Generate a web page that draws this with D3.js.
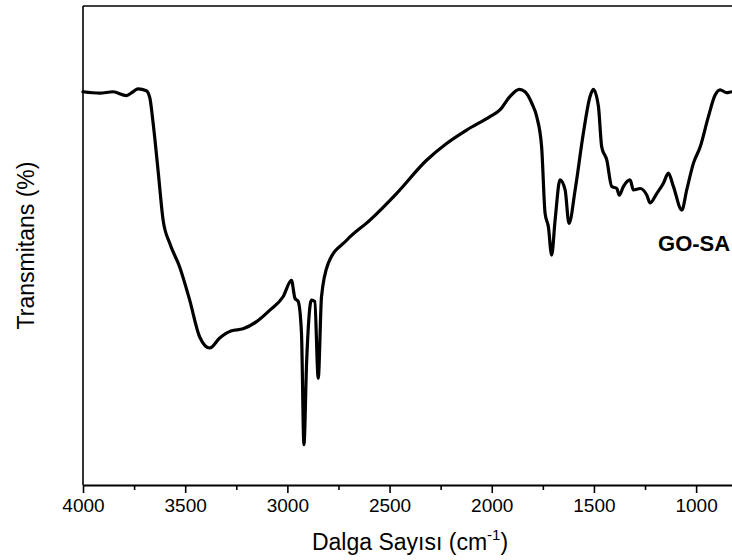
<!DOCTYPE html>
<html>
<head>
<meta charset="utf-8">
<script src="https://cdn.jsdelivr.net/npm/d3@7"></script>
<style>
  html, body { margin: 0; padding: 0; background: #fff; }
  svg { display: block; font-family: Arial, "Liberation Sans", sans-serif; }
</style>
</head>
<body>
<svg id="chart" width="732" height="560"></svg>
<script>
// FT-IR spectrum of GO-SA: wavenumber (cm-1) and transmittance (arbitrary %)
const wavenumber = [4000, 3918, 3853, 3788, 3755, 3731, 3690, 3673, 3657, 3633, 3608, 3576, 3527, 3478, 3429, 3380, 3331, 3273, 3217, 3151, 3086, 3021, 2980, 2963, 2947, 2931, 2919, 2906, 2882, 2866, 2849, 2833, 2800, 2710, 2596, 2465, 2319, 2221, 2123, 2009, 1960, 1911, 1865, 1837, 1804, 1780, 1756, 1739, 1723, 1707, 1690, 1666, 1641, 1622, 1592, 1552, 1519, 1503, 1478, 1462, 1437, 1413, 1388, 1376, 1356, 1323, 1307, 1274, 1241, 1225, 1192, 1160, 1136, 1111, 1070, 1046, 1013, 980, 940, 907, 883, 850, 825, 800];
const transmittance = [82.1, 81.8, 82.1, 81.3, 82.1, 82.7, 82.3, 80.8, 75.6, 65.8, 55.3, 50.5, 45.5, 38.6, 30.9, 28.6, 30.7, 32.2, 32.6, 34.1, 36.5, 39.3, 42.7, 39.0, 38.3, 31.7, 8.4, 25.5, 38.6, 38.3, 22.3, 39.3, 46.3, 51.1, 55.3, 60.9, 67.8, 71.3, 74.1, 76.9, 78.3, 81.1, 82.6, 82.1, 79.7, 76.9, 70.6, 56.7, 53.9, 48.0, 55.3, 63.7, 61.6, 54.6, 61.6, 73.4, 81.1, 82.6, 79.0, 70.6, 67.8, 62.3, 61.9, 60.5, 62.3, 63.7, 61.6, 61.9, 60.5, 58.9, 60.9, 63.0, 65.1, 62.3, 57.4, 61.6, 67.2, 70.6, 76.9, 81.4, 82.5, 81.9, 82.1, 82.1];
const majorTicks = [4000, 3500, 3000, 2500, 2000, 1500, 1000];
const minorTicks = [3750, 3250, 2750, 2250, 1750, 1250];
const sampleLabel = "GO-SA";

const svg = d3.select("#chart");
const margin = { left: 83, right: 737, top: 6, bottom: 485 };

const x = d3.scaleLinear().domain([4000, 800]).range([margin.left, margin.right]);
const y = d3.scaleLinear().domain([0, 100]).range([margin.bottom, margin.top]);

const data = wavenumber.map((w, i) => ({ w, t: transmittance[i] }));

// spectrum line
const line = d3.line()
  .x(d => x(d.w))
  .y(d => y(d.t))
  .curve(d3.curveMonotoneX);

svg.append("path")
  .datum(data)
  .attr("d", line)
  .attr("fill", "none")
  .attr("stroke", "#000")
  .attr("stroke-width", 3.2)
  .attr("stroke-linejoin", "round")
  .attr("stroke-linecap", "round");

// frame: top edge
svg.append("line")
  .attr("x1", margin.left).attr("x2", margin.right)
  .attr("y1", margin.top).attr("y2", margin.top)
  .attr("stroke", "#000").attr("stroke-width", 1.6);

// left axis (no ticks)
svg.append("line")
  .attr("x1", margin.left).attr("x2", margin.left)
  .attr("y1", margin.top).attr("y2", margin.bottom)
  .attr("stroke", "#000").attr("stroke-width", 1.6);

// bottom axis, major ticks with labels
const xAxis = d3.axisBottom(x)
  .tickValues(majorTicks)
  .tickSize(8)
  .tickSizeOuter(0)
  .tickPadding(6)
  .tickFormat(d3.format("d"));

const gx = svg.append("g")
  .attr("transform", `translate(0,${margin.bottom})`)
  .call(xAxis);
gx.select(".domain").attr("stroke-width", 1.8);
gx.selectAll(".tick line").attr("stroke-width", 1.6);
gx.selectAll(".tick text")
  .attr("font-size", 19)
  .attr("font-family", "Arial, 'Liberation Sans', sans-serif")
  .attr("fill", "#000");

// bottom axis, minor ticks
const gxMinor = svg.append("g")
  .attr("transform", `translate(0,${margin.bottom})`)
  .call(d3.axisBottom(x).tickValues(minorTicks).tickSize(5).tickFormat(""));
gxMinor.select(".domain").remove();
gxMinor.selectAll(".tick line").attr("stroke-width", 1.6);

// axis titles
const xTitle = svg.append("text")
  .attr("x", (margin.left + margin.right) / 2)
  .attr("y", 550)
  .attr("text-anchor", "middle")
  .attr("font-size", 23)
  .attr("fill", "#000");
xTitle.append("tspan").text("Dalga Sayısı (cm");
xTitle.append("tspan").attr("font-size", 15).attr("dy", -10).text("-1");
xTitle.append("tspan").attr("dy", 10).text(")");

svg.append("text")
  .attr("transform", `translate(34,${(margin.top + margin.bottom) / 2}) rotate(-90)`)
  .attr("text-anchor", "middle")
  .attr("font-size", 23)
  .attr("fill", "#000")
  .text("Transmitans (%)");

// sample label
svg.append("text")
  .attr("x", x(1010))
  .attr("y", 251)
  .attr("text-anchor", "middle")
  .attr("font-size", 22)
  .attr("font-weight", "bold")
  .attr("fill", "#000")
  .text(sampleLabel);
</script>
</body>
</html>
